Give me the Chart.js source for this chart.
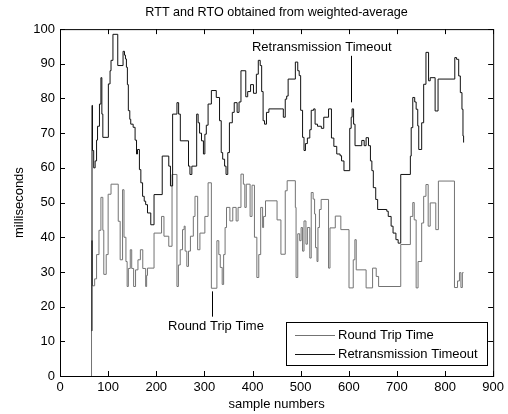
<!DOCTYPE html>
<html>
<head>
<meta charset="utf-8">
<script src="https://cdn.jsdelivr.net/npm/chart.js@4/dist/chart.umd.min.js"></script>
<style>
  html, body { margin: 0; padding: 0; background: #fff; }
  #wrap { width: 508px; height: 414px; }
</style>
</head>
<body>
<div id="wrap"><canvas id="chart" width="508" height="414"></canvas></div>
<script>
// --- data (value holds from x until the next x) ---
const rttX = [65, 65.5, 67.5, 72, 76, 81, 85, 89, 91, 96, 100, 106, 121, 125, 130, 133, 137, 139.5, 142, 146, 149, 153, 157, 162, 167, 172, 178, 180, 181.8, 195.4, 211, 216, 226, 232.8, 243, 246, 249.8, 254.6, 258, 260, 263.5, 267, 271, 277, 280.5, 286, 290.7, 301, 307.7, 314.5, 326, 330, 333, 337, 340, 343, 346, 353, 359, 366, 370, 376, 381, 384, 387, 395, 399, 404, 409, 413, 417, 421, 423, 427, 451, 459, 468, 472, 489, 490.5, 494, 498, 501, 504, 507, 511, 514, 519, 522, 526, 529, 531, 534, 536, 539, 542.6, 558, 561, 572, 583.5, 600.5, 609.3, 612.7, 615.5, 636, 649.5, 657, 662, 708, 728, 733, 736, 740, 744, 751.5, 755.6, 760.4, 765, 769.2, 780.8, 786.2, 819.6, 826, 830, 833, 836, 838.5];
const rttY = [0, 39, 26, 28, 35, 42, 51.5, 42, 29.3, 35, 52.4, 55.3, 44.6, 33.5, 53.7, 40, 33, 25.8, 31, 36.4, 31, 25.8, 30.6, 33.5, 36.4, 31, 25.8, 29, 31.1, 41.2, 46, 40.3, 37.4, 58.1, 25.8, 32, 36.4, 42.2, 43.2, 36, 31.6, 36, 40.3, 46, 51.8, 36.4, 41.2, 46, 55.7, 25.3, 39, 35, 31.3, 26.4, 35, 42.8, 48.6, 44.7, 48.6, 44.7, 48.6, 58.2, 55.3, 48.6, 55.3, 46, 55, 40, 28.4, 35, 48.6, 42.8, 46, 50.5, 45, 35.1, 53.4, 56.3, 48.6, 28.4, 41, 39, 42.8, 36, 44.7, 38, 42.8, 34, 52.9, 51, 46.7, 37, 33, 42.8, 48, 50.9, 31.1, 42.7, 46.1, 42.2, 25.4, 33.5, 39.3, 30.6, 25.4, 31.1, 28.7, 25.8, 37.9, 46, 50, 45, 25.4, 33, 44.1, 51.8, 55.2, 43.2, 49.9, 42.2, 56.2, 25.5, 27.4, 29.8, 25.5, 29.8, 29.8];

const rtoX = [66, 66.5, 67.5, 70, 73, 76, 78, 82, 85, 87, 89, 100.5, 104, 106, 110, 120, 131, 134, 136, 138, 140, 142, 145, 147, 152, 156, 159, 161, 165, 168, 171.6, 175, 178, 181.8, 188.6, 195.4, 212.4, 226, 229.5, 234, 243, 246.5, 250, 267, 270, 274, 284, 287, 290, 294, 298, 301, 304, 307.7, 314.5, 324.7, 331.5, 335, 338, 342, 345, 348.6, 352, 358, 362, 368, 372, 376, 386, 390, 396, 402, 408, 412, 416, 419, 422, 425, 429, 434, 461, 464, 468, 471, 474, 489, 494, 497, 500, 504, 507, 510, 514, 519, 522, 527, 530, 535, 543, 548, 558, 564, 569, 575, 582, 585, 590, 602, 605, 607, 610, 613, 627, 632, 636, 641, 645, 648, 651, 656, 660, 679, 682, 688, 692, 698, 702.6, 708, 728, 729.7, 733, 737, 740, 743.3, 745.4, 751.5, 755.6, 760.4, 765.8, 769.2, 779.4, 785.5, 820.3, 824, 828.4, 831.8, 835.2, 837.3, 838.6];
const rtoY = [13, 78, 65, 60, 62, 68, 72, 78.4, 86, 75.5, 68.8, 84.2, 88, 91, 98.5, 89.5, 93.6, 92.5, 91.4, 89, 84, 76.5, 74, 72.6, 71.7, 68, 64, 65.3, 59.5, 55.7, 51.8, 50.4, 49.4, 47, 43.6, 52.3, 63.4, 60.5, 54.8, 75.5, 78.8, 75.5, 67.8, 60.5, 58.1, 60.5, 75.5, 73, 70, 67.8, 64, 69.7, 72.3, 78.4, 82.3, 80.3, 73.6, 64.4, 62.5, 60.5, 58.1, 64.4, 73, 76, 78.8, 76, 79, 88, 80.5, 82, 84, 81.5, 87, 91, 89.5, 82, 73.6, 72.6, 76, 77, 77, 74.6, 79.8, 80.7, 85.6, 90.5, 88, 86.6, 76.6, 68.8, 65, 67, 68.6, 71, 76.6, 77, 72.6, 72, 71.4, 74.6, 77, 68.6, 66.2, 64, 63.5, 62, 59.2, 71.4, 74.6, 77, 72.6, 66.4, 67.9, 66.4, 68.7, 66.4, 62, 59.2, 54.3, 50.9, 48, 47.5, 46, 43.2, 41.2, 39.3, 38.3, 58.1, 63.4, 71.6, 80.3, 79, 76.9, 72.1, 65.3, 73, 84.1, 93.3, 85.1, 86, 76.4, 85.6, 91.8, 91.3, 86.5, 81.7, 76.9, 69.2, 67.3];

const seriesNames = ['Round Trip Time', 'Retransmission Timeout'];
const seriesColors = ['#737373', '#111111'];

// text notes: [label, textX, textY, lineX, lineFromY, lineToY]
const notes = [
    ['Retransmission Timeout', 544, 94.7, 604, 92.3, 78.9],
    ['Round Trip Time', 324, 14.2, 316.5, 24.4, 17.1]
];

const FONT = '"Liberation Sans", Arial, Helvetica, sans-serif';

function toPoints(xs, ys) {
    return xs.map((x, i) => ({ x: x, y: ys[i] }));
}

// MATLAB-like box, inward ticks, notes and legend
const matlabBox = {
    id: 'matlabBox',
    afterDraw(chart) {
        const { ctx, chartArea: a, scales } = chart;
        ctx.save();
        ctx.strokeStyle = '#000';
        ctx.lineWidth = 1;
        ctx.strokeRect(a.left + 0.5, a.top + 0.5, a.right - a.left, a.bottom - a.top);
        ctx.beginPath();
        scales.x.ticks.forEach(t => {
            const px = Math.round(scales.x.getPixelForValue(t.value)) + 0.5;
            ctx.moveTo(px, a.bottom); ctx.lineTo(px, a.bottom - 5);
            ctx.moveTo(px, a.top); ctx.lineTo(px, a.top + 5);
        });
        scales.y.ticks.forEach(t => {
            const py = Math.round(scales.y.getPixelForValue(t.value)) + 0.5;
            ctx.moveTo(a.left, py); ctx.lineTo(a.left + 5, py);
            ctx.moveTo(a.right, py); ctx.lineTo(a.right - 5, py);
        });
        ctx.stroke();

        // notes
        ctx.font = '13px ' + FONT;
        ctx.fillStyle = '#000';
        ctx.textAlign = 'center';
        ctx.textBaseline = 'middle';
        notes.forEach(n => {
            ctx.fillText(n[0], scales.x.getPixelForValue(n[1]), scales.y.getPixelForValue(n[2]));
            const lx = Math.round(scales.x.getPixelForValue(n[3])) + 0.5;
            ctx.beginPath();
            ctx.moveTo(lx, scales.y.getPixelForValue(n[4]));
            ctx.lineTo(lx, scales.y.getPixelForValue(n[5]));
            ctx.stroke();
        });

        // legend box
        const bx = 286, by = 322, bw = 201, bh = 43;
        ctx.fillStyle = '#fff';
        ctx.fillRect(bx, by, bw, bh);
        ctx.strokeRect(bx + 0.5, by + 0.5, bw, bh);
        ctx.textAlign = 'left';
        chart.data.datasets.forEach((ds, i) => {
            const ly = by + 13.5 + i * 19;
            ctx.strokeStyle = ds.borderColor;
            ctx.beginPath();
            ctx.moveTo(bx + 9, ly); ctx.lineTo(bx + 49, ly);
            ctx.stroke();
            ctx.fillStyle = '#000';
            ctx.fillText(ds.label, bx + 52, ly);
        });
        ctx.restore();
    }
};

new Chart(document.getElementById('chart'), {
    type: 'line',
    data: {
        datasets: [
            { label: seriesNames[0], data: toPoints(rttX, rttY), borderColor: seriesColors[0], borderWidth: 1, pointRadius: 0, stepped: true, order: 1 },
            { label: seriesNames[1], data: toPoints(rtoX, rtoY), borderColor: seriesColors[1], borderWidth: 1, pointRadius: 0, stepped: true, order: 0 }
        ]
    },
    options: {
        responsive: false,
        animation: false,
        layout: { padding: { left: 0, right: 8, top: 0, bottom: 0 } },
        plugins: {
            legend: { display: false },
            tooltip: { enabled: false },
            title: {
                display: true,
                fullSize: false,
                text: 'RTT and RTO obtained from weighted-average',
                color: '#000',
                font: { family: FONT, size: 12.6, weight: 'normal' },
                padding: { top: 5, bottom: 9 }
            }
        },
        scales: {
            x: {
                type: 'linear',
                min: 0, max: 900,
                ticks: { stepSize: 100, color: '#000', font: { family: FONT, size: 13 }, padding: 4, maxRotation: 0 },
                grid: { display: false, drawTicks: false },
                border: { display: false },
                title: { display: true, text: 'sample numbers', color: '#000', font: { family: FONT, size: 13 }, padding: { top: 0, bottom: 2 } },
                afterFit(s) { s.height = 38; }
            },
            y: {
                min: 0, max: 100,
                ticks: { stepSize: 10, color: '#000', font: { family: FONT, size: 13 }, padding: 5 },
                grid: { display: false, drawTicks: false },
                border: { display: false },
                title: { display: true, text: 'milliseconds', color: '#000', font: { family: FONT, size: 13 }, padding: { top: 12, bottom: 0 } },
                afterFit(s) { s.width = 60; }
            }
        }
    },
    plugins: [matlabBox]
});
</script>
</body>
</html>
